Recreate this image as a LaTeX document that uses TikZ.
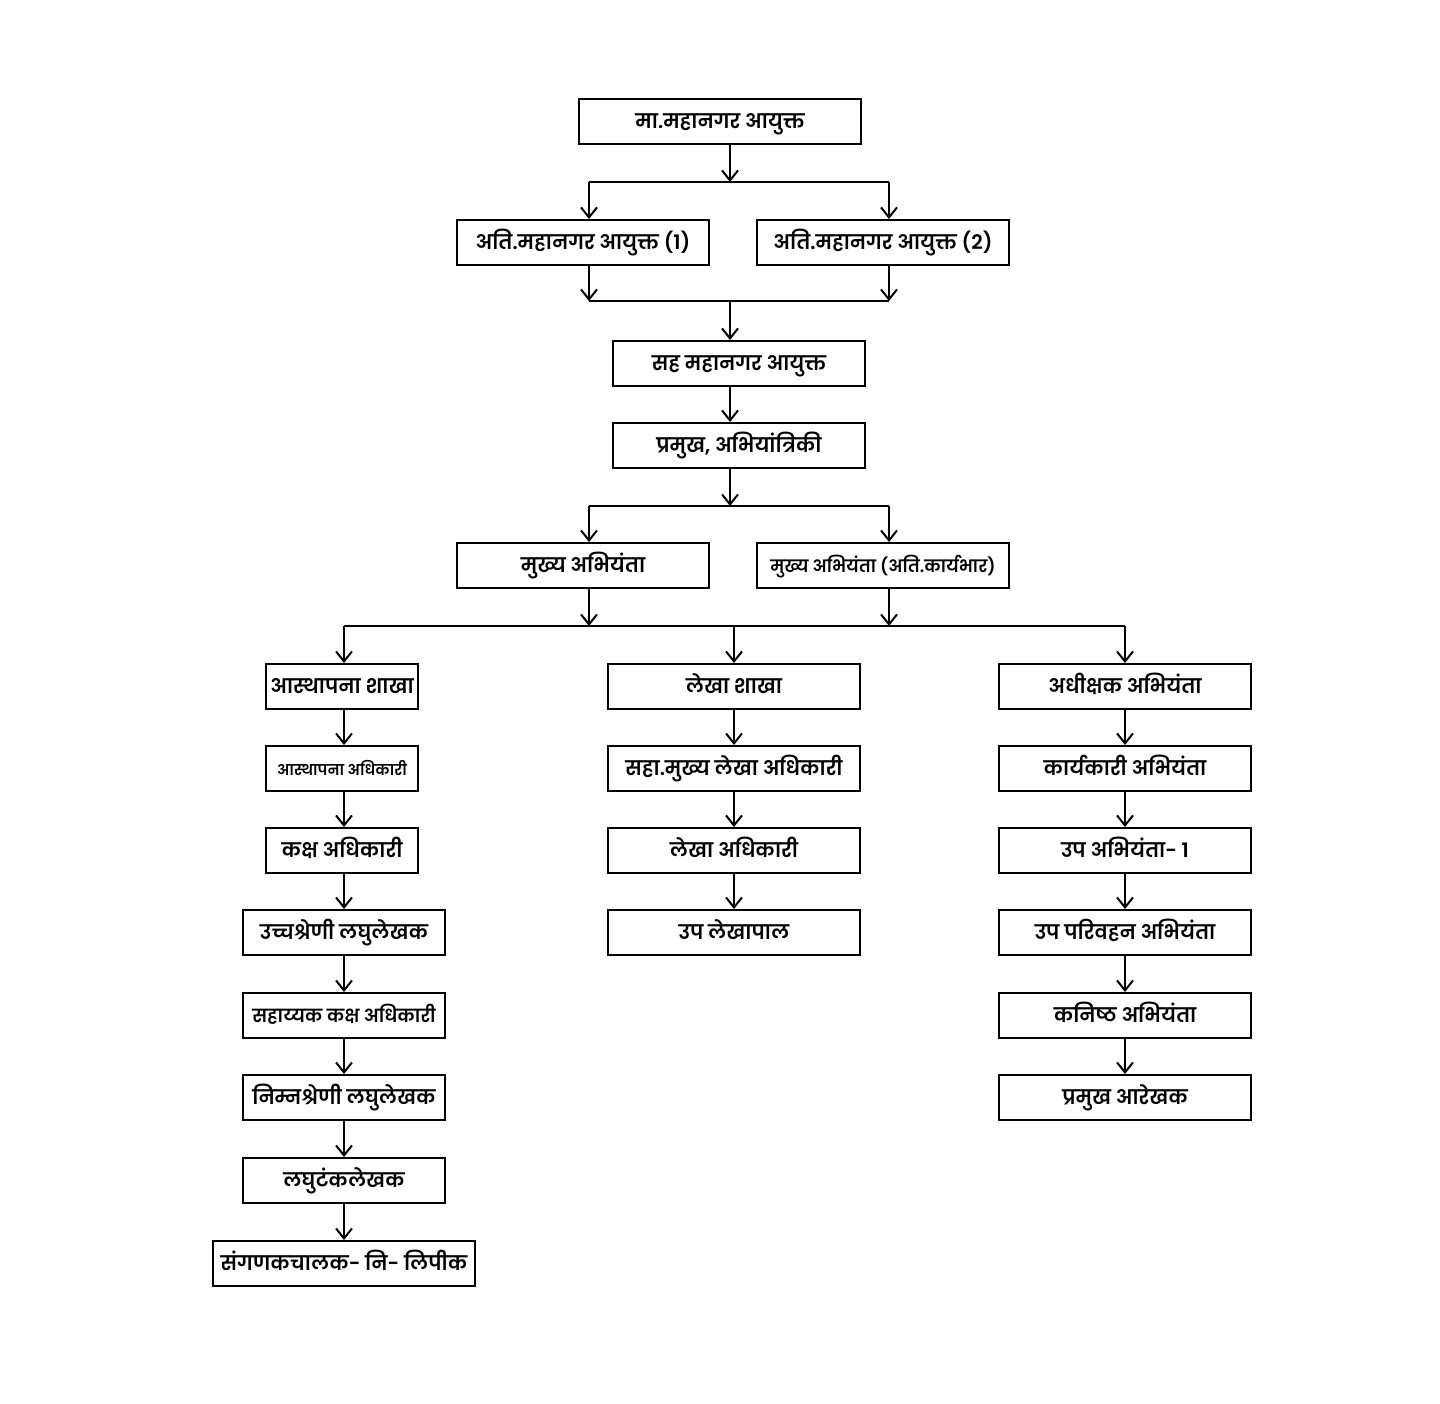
\documentclass[tikz,border=0pt]{standalone}
\usepackage{fontspec}
\newfontfamily\marathi[Script=Devanagari,BoldFont={Poppins SemiBold}]{Poppins}
\usetikzlibrary{arrows.meta}

\begin{document}
\begin{tikzpicture}[x=0.5pt,y=-0.5pt,>={Straight Barb[length=5pt,width=8pt]},line width=1pt,
  box/.style={draw,line width=1pt,minimum height=22.5pt,inner sep=0pt,text height=6.5pt,text depth=0pt,font=\marathi\bfseries\fontsize{10}{12}\selectfont},
  boxtop/.style={box,minimum width=141pt},
  boxwide/.style={box,minimum width=126pt},
  boxnarrow/.style={box,minimum width=76pt},
  boxmid/.style={box,minimum width=101pt},
  boxlong/.style={box,minimum width=131pt},
  small/.style={font=\marathi\bfseries\fontsize{7.4}{9}\selectfont},
  smaller/.style={font=\marathi\bfseries\fontsize{8.5}{10}\selectfont},
  slim/.style={font=\marathi\bfseries\fontsize{9}{11}\selectfont}]
\useasboundingbox (0,0) rectangle (1440,1403);
% upper levels
\node[boxtop] (mc) at (720,121.5) {मा.महानगर आयुक्त};
\node[boxwide] (amc1) at (583,242.5) {अति.महानगर आयुक्त (1)};
\node[boxwide] (amc2) at (883,242.5) {अति.महानगर आयुक्त (2)};
\node[boxwide] (jmc) at (739,363.5) {सह महानगर आयुक्त};
\node[boxwide] (head) at (739,445.5) {प्रमुख, अभियांत्रिकी};
\node[boxwide] (ce1) at (583,565.5) {मुख्य अभियंता};
\node[boxwide,smaller] (ce2) at (883,565.5) {मुख्य अभियंता (अति.कार्यभार)};
% left column
\node[boxnarrow] (est) at (342,686.5) {आस्थापना शाखा};
\node[boxnarrow,small] (esto) at (342,768.5) {आस्थापना अधिकारी};
\node[boxnarrow] (desk) at (342,850.5) {कक्ष अधिकारी};
\node[boxmid] (hgs) at (344,932.5) {उच्चश्रेणी लघुलेखक};
\node[boxmid,slim] (adesk) at (344,1015.5) {सहाय्यक कक्ष अधिकारी};
\node[boxmid] (lgs) at (344,1097.5) {निम्नश्रेणी लघुलेखक};
\node[boxmid] (steno) at (344,1180.5) {लघुटंकलेखक};
\node[boxlong] (clerk) at (344,1263.5) {संगणकचालक- नि- लिपीक};
% middle column
\node[boxwide] (acc) at (734,686.5) {लेखा शाखा};
\node[boxwide] (acao) at (734,768.5) {सहा.मुख्य लेखा अधिकारी};
\node[boxwide] (ao) at (734,850.5) {लेखा अधिकारी};
\node[boxwide] (dacc) at (734,932.5) {उप लेखापाल};
% right column
\node[boxwide] (se) at (1125,686.5) {अधीक्षक अभियंता};
\node[boxwide] (ee) at (1125,768.5) {कार्यकारी अभियंता};
\node[boxwide] (de) at (1125,850.5) {उप अभियंता- 1};
\node[boxwide] (dte) at (1125,932.5) {उप परिवहन अभियंता};
\node[boxwide] (je) at (1125,1015.5) {कनिष्ठ अभियंता};
\node[boxwide] (dman) at (1125,1097.5) {प्रमुख आरेखक};
% junctions
\coordinate (j1) at (730,182);
\coordinate (j1l) at (589,182);
\coordinate (j1r) at (889,182);
\coordinate (j2) at (730,301);
\coordinate (j2l) at (589,301);
\coordinate (j2r) at (889,301);
\coordinate (j3) at (730,506);
\coordinate (j3l) at (589,506);
\coordinate (j3r) at (889,506);
\coordinate (j4l) at (344,626);
\coordinate (j4a) at (589,626);
\coordinate (j4m) at (734,626);
\coordinate (j4b) at (889,626);
\coordinate (j4r) at (1125,626);
% connectors
\draw[->] (mc.south -| j1) -- (j1);
\draw (j1l) -- (j1r);
\draw[->] (j1l) -- (amc1.north -| j1l);
\draw[->] (j1r) -- (amc2.north -| j1r);
\draw[->] (amc1.south -| j2l) -- (j2l);
\draw[->] (amc2.south -| j2r) -- (j2r);
\draw (j2l) -- (j2r);
\draw[->] (j2) -- (jmc.north -| j2);
\draw[->] (jmc.south -| j2) -- (head.north -| j2);
\draw[->] (head.south -| j3) -- (j3);
\draw (j3l) -- (j3r);
\draw[->] (j3l) -- (ce1.north -| j3l);
\draw[->] (j3r) -- (ce2.north -| j3r);
\draw[->] (ce1.south -| j4a) -- (j4a);
\draw[->] (ce2.south -| j4b) -- (j4b);
\draw (j4l) -- (j4r);
\draw[->] (j4l) -- (est.north -| j4l);
\draw[->] (j4m) -- (acc.north -| j4m);
\draw[->] (j4r) -- (se.north -| j4r);
\draw[->] (est.south -| j4l) -- (esto.north -| j4l);
\draw[->] (esto.south -| j4l) -- (desk.north -| j4l);
\draw[->] (desk.south -| j4l) -- (hgs.north -| j4l);
\draw[->] (hgs) -- (adesk);
\draw[->] (adesk) -- (lgs);
\draw[->] (lgs) -- (steno);
\draw[->] (steno) -- (clerk);
\draw[->] (acc) -- (acao);
\draw[->] (acao) -- (ao);
\draw[->] (ao) -- (dacc);
\draw[->] (se) -- (ee);
\draw[->] (ee) -- (de);
\draw[->] (de) -- (dte);
\draw[->] (dte) -- (je);
\draw[->] (je) -- (dman);
\end{tikzpicture}
\end{document}
